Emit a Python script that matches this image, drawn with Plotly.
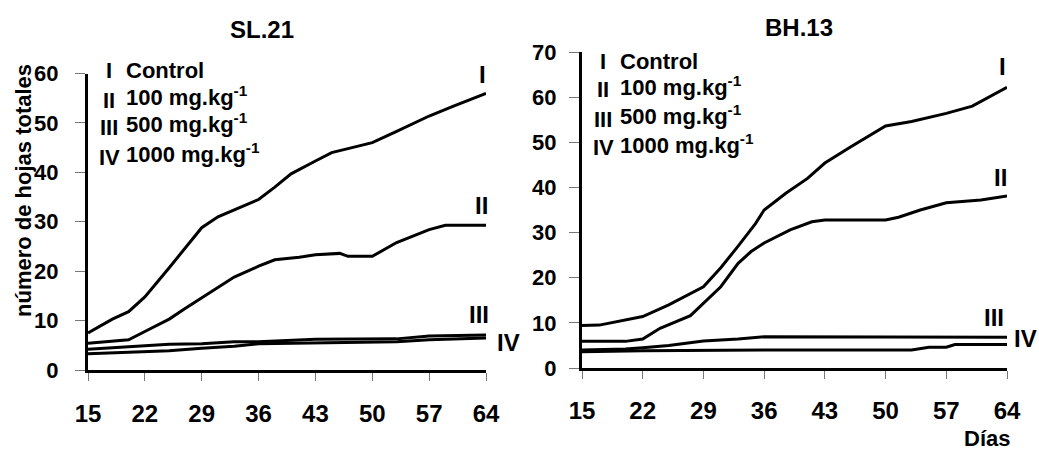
import plotly.graph_objects as go

W, H = 1039, 452

# ---------------- data ----------------
x_ticks = [15, 22, 29, 36, 43, 50, 57, 64]
y_ticks_sl = [0, 10, 20, 30, 40, 50, 60]
y_ticks_bh = [0, 10, 20, 30, 40, 50, 60, 70]

sl_I_days = [15, 18, 20, 22, 25, 27, 29, 31, 33, 36, 38, 40, 43, 45, 47, 50, 53, 57, 60, 64]
sl_I_vals = [7.5, 10.3, 11.8, 14.8, 20.7, 24.8, 28.8, 31.0, 32.4, 34.5, 37.0, 39.7, 42.3, 44.0, 44.8, 46.0, 48.3, 51.4, 53.4, 56.0]
sl_II_days = [15, 18, 20, 22, 25, 27, 29, 31, 33, 36, 38, 41, 43, 46, 47, 50, 53, 57, 59, 64]
sl_II_vals = [5.4, 5.8, 6.1, 7.8, 10.3, 12.5, 14.6, 16.8, 18.8, 21.0, 22.3, 22.8, 23.3, 23.6, 23.0, 23.0, 25.8, 28.4, 29.3, 29.3]
sl_III_days = [15, 22, 25, 29, 33, 36, 43, 53, 57, 64]
sl_III_vals = [4.2, 4.8, 5.2, 5.3, 5.7, 5.7, 6.2, 6.3, 6.9, 7.1]
sl_IV_days = [15, 22, 25, 29, 33, 36, 43, 53, 57, 64]
sl_IV_vals = [3.3, 3.7, 3.9, 4.4, 4.8, 5.3, 5.5, 5.7, 6.1, 6.5]

bh_I_days = [15, 17, 22, 25, 29, 31, 33, 35, 36, 38.5, 41, 43, 46, 50, 53, 57, 60, 64]
bh_I_vals = [9.4, 9.5, 11.4, 14.0, 18.0, 22.2, 27.0, 32.0, 35.0, 38.7, 42.0, 45.4, 49.0, 53.6, 54.6, 56.4, 58.0, 62.2]
bh_II_days = [15, 20, 22, 24, 27.5, 29, 31, 33, 34.5, 36, 39, 41.5, 43, 50, 51.5, 54, 57, 61, 64]
bh_II_vals = [5.9, 5.9, 6.4, 8.8, 11.6, 14.4, 18.0, 23.2, 25.8, 27.7, 30.6, 32.4, 32.8, 32.8, 33.4, 35.0, 36.6, 37.2, 38.1]
bh_III_days = [15, 20, 22, 25, 27, 29, 33, 36, 64]
bh_III_vals = [4.0, 4.2, 4.5, 5.0, 5.5, 6.0, 6.4, 6.9, 6.8]
bh_IV_days = [15, 22, 36, 53, 55, 57, 58, 64]
bh_IV_vals = [3.6, 3.8, 4.0, 4.0, 4.6, 4.6, 5.2, 5.2]

series_names = ["I", "II", "III", "IV"]
legend_texts = ["Control", "100 mg.kg<sup>-1</sup>", "500 mg.kg<sup>-1</sup>", "1000 mg.kg<sup>-1</sup>"]
panel_titles = ["SL.21", "BH.13"]
y_title = "número de hojas totales"
x_title = "Días"

# ---------------- helpers ----------------
def px(x):
    return x / W

def py(y):
    return (H - y) / H

FONT = "Liberation Sans, Arial, sans-serif"

fig = go.Figure()

left = [(sl_I_days, sl_I_vals), (sl_II_days, sl_II_vals), (sl_III_days, sl_III_vals), (sl_IV_days, sl_IV_vals)]
right = [(bh_I_days, bh_I_vals), (bh_II_days, bh_II_vals), (bh_III_days, bh_III_vals), (bh_IV_days, bh_IV_vals)]

for name, (d, v) in zip(series_names, left):
    fig.add_trace(go.Scatter(x=d, y=v, mode="lines", name=name, xaxis="x", yaxis="y",
                             line=dict(color="black", width=3), showlegend=False))
for name, (d, v) in zip(series_names, right):
    fig.add_trace(go.Scatter(x=d, y=v, mode="lines", name=name, xaxis="x2", yaxis="y2",
                             line=dict(color="black", width=3), showlegend=False))

axis_common = dict(showline=True, linewidth=3, linecolor="black", showgrid=False, zeroline=False,
                   ticks="outside", tickcolor="#777", tickwidth=1, automargin=False)

fig.update_layout(
    width=W, height=H, margin=dict(l=0, r=0, t=0, b=0, autoexpand=False),
    paper_bgcolor="white", plot_bgcolor="white",
    font=dict(family=FONT, color="black"),
    xaxis=dict(axis_common, domain=[px(88), px(486)], range=[15, 64], tickvals=x_ticks,
               ticklen=8, ticklabelstandoff=12, tickfont=dict(size=24, family=FONT, weight="bold"),
               anchor="y"),
    yaxis=dict(axis_common, domain=[py(370), py(73.5)], range=[0, 60], tickvals=y_ticks_sl,
               ticklen=10, ticklabelstandoff=12, tickfont=dict(size=22, family=FONT, weight="bold"),
               anchor="x"),
    xaxis2=dict(axis_common, domain=[px(582), px(1007)], range=[15, 64], tickvals=x_ticks,
                ticklen=8, ticklabelstandoff=11, tickfont=dict(size=24, family=FONT, weight="bold"),
                anchor="y2"),
    yaxis2=dict(axis_common, domain=[py(368), py(52)], range=[0, 70], tickvals=y_ticks_bh,
                ticklen=10, ticklabelstandoff=8, tickfont=dict(size=22, family=FONT, weight="bold"),
                anchor="x2"),
)

ann = []
def add_text(x, y, text, size, xanchor="center", yanchor="middle", angle=0):
    ann.append(dict(xref="paper", yref="paper", x=px(x), y=py(y), text=text, showarrow=False,
                    xanchor=xanchor, yanchor=yanchor, textangle=angle,
                    font=dict(size=size, family=FONT, color="black", weight="bold")))

# titles
add_text(262, 29, panel_titles[0], 24)
add_text(799, 27, panel_titles[1], 24)
# y title
add_text(23, 191, y_title, 22, angle=-90)
# x title
add_text(987, 438, x_title, 22)

# legends
left_rows = [70, 100, 127, 157]
right_rows = [61, 90, 119, 148]
for i in range(4):
    add_text(109, left_rows[i], series_names[i], 22)
    add_text(124, left_rows[i] - (4 if i > 0 else 0), legend_texts[i], 22, xanchor="left")
    add_text(603, right_rows[i], series_names[i], 22)
    add_text(618, right_rows[i] - (4 if i > 0 else 0), legend_texts[i], 22, xanchor="left")

# series labels at line ends
left_lab = [(482, 74), (481, 205), (479, 314), (508, 342)]
right_lab = [(1002, 66), (1000, 177), (994, 317), (1025, 338)]
for i in range(4):
    add_text(left_lab[i][0], left_lab[i][1], series_names[i], 24)
    add_text(right_lab[i][0], right_lab[i][1], series_names[i], 24)

fig.update_layout(annotations=ann)
fig.write_html("out.html", config={"displayModeBar": False},
               post_script="document.body.style.margin='0';document.body.style.padding='0';")
